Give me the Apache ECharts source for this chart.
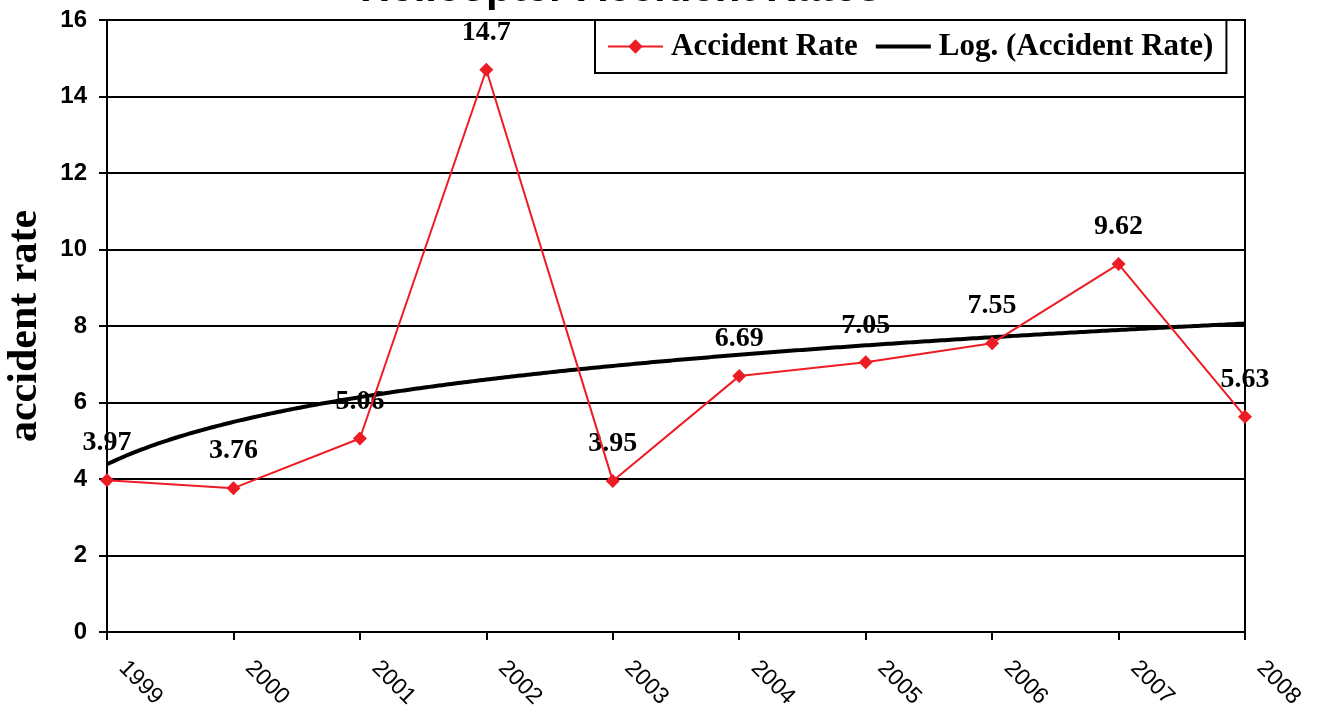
<!DOCTYPE html>
<html>
<head>
<meta charset="utf-8">
<title>Helicopter Accident Rates</title>
<script src="https://cdn.jsdelivr.net/npm/echarts@6/dist/echarts.min.js"></script>
<style>
  html, body { margin: 0; padding: 0; background: #fff; }
  #chart { width: 1320px; height: 713px; }
</style>
</head>
<body>
<div id="chart"></div>
<script>
// Yearly helicopter accident rates
const years = ['1999', '2000', '2001', '2002', '2003', '2004', '2005', '2006', '2007', '2008'];
const accidentRate = [3.97, 3.76, 5.06, 14.7, 3.95, 6.69, 7.05, 7.55, 9.62, 5.63];
const yTicks = [0, 2, 4, 6, 8, 10, 12, 14, 16];

// Logarithmic trendline y = a*ln(x) + b, least-squares fit with x = 1..n
function logFit(values) {
  const n = values.length;
  const lx = values.map((_, i) => Math.log(i + 1));
  const mx = lx.reduce((s, v) => s + v, 0) / n;
  const my = values.reduce((s, v) => s + v, 0) / n;
  let sxy = 0, sxx = 0;
  for (let i = 0; i < n; i++) {
    sxy += (lx[i] - mx) * (values[i] - my);
    sxx += (lx[i] - mx) * (lx[i] - mx);
  }
  const a = sxy / sxx;
  return { a: a, b: my - a * mx };
}
const fit = logFit(accidentRate);
const trend = [];
for (let k = 0; k <= (years.length - 1) * 40; k++) {
  const t = k / 40;
  trend.push([t, fit.a * Math.log(t + 1) + fit.b]);
}

const RED = '#ED1C24';
const serif = '"Liberation Serif", "Times New Roman", serif';
const sans = '"Liberation Sans", Arial, sans-serif';

const chart = echarts.init(document.getElementById('chart'), null, { renderer: 'canvas' });
chart.setOption({
  backgroundColor: '#fff',
  animation: false,
  title: {
    text: 'Helicopter Accident Rates',
    left: 355,
    top: -37,
    textStyle: { fontFamily: sans, fontWeight: 'bold', fontSize: 42, color: '#000' }
  },
  legend: {
    left: 595,
    top: 20,
    padding: [11, 13, 11, 12],
    itemGap: 18,
    itemWidth: 55,
    itemHeight: 18,
    borderColor: '#000',
    borderWidth: 2,
    backgroundColor: '#fff',
    data: [
      { name: 'Accident Rate' },
      { name: 'Log. (Accident Rate)', icon: 'path://M0,0 L55,0 L55,4 L0,4 Z' }
    ],
    textStyle: { fontFamily: serif, fontWeight: 'bold', fontSize: 31, color: '#000', padding: [0, 0, 0, 3] }
  },
  grid: {
    left: 107, right: 75, top: 20, bottom: 81,
    outerBoundsMode: 'none',
    containLabel: false,
    show: true, borderColor: '#000', borderWidth: 2
  },
  xAxis: [{
    type: 'category',
    data: years,
    boundaryGap: false,
    axisLine: { lineStyle: { color: '#000', width: 2 } },
    axisTick: { length: 8, lineStyle: { color: '#000', width: 2 } },
    axisLabel: {
      rotate: -45, margin: 17, padding: [0, 0, 0, 22], color: '#000',
      fontFamily: sans, fontSize: 23
    },
    splitLine: { show: false }
  }, {
    type: 'value',
    min: 0, max: years.length - 1,
    show: false
  }],
  yAxis: {
    type: 'value',
    min: yTicks[0], max: yTicks[yTicks.length - 1], interval: 2,
    name: 'accident rate',
    nameLocation: 'middle',
    nameGap: 61,
    nameTextStyle: { fontFamily: serif, fontWeight: 'bold', fontSize: 42, color: '#000' },
    axisLine: { show: true, lineStyle: { color: '#000', width: 2 } },
    axisTick: { show: true, length: 8, lineStyle: { color: '#000', width: 2 } },
    axisLabel: {
      margin: 20, color: '#000',
      fontFamily: sans, fontWeight: 'bold', fontSize: 24
    },
    splitLine: { lineStyle: { color: '#000', width: 2 } }
  },
  series: [{
    // value labels sit under the lines
    name: 'values',
    type: 'scatter',
    z: 1,
    xAxisIndex: 0,
    data: accidentRate,
    symbol: 'diamond',
    symbolSize: 14,
    itemStyle: { color: 'rgba(0,0,0,0)', opacity: 1 },
    label: {
      show: true, position: 'top', distance: 16,
      fontFamily: serif, fontWeight: 'bold', fontSize: 28, color: '#000'
    },
    silent: true
  }, {
    name: 'Log. (Accident Rate)',
    type: 'line',
    z: 3,
    xAxisIndex: 1,
    data: trend,
    showSymbol: false,
    symbol: 'none',
    lineStyle: { color: '#000', width: 4 },
    itemStyle: { color: '#000' }
  }, {
    name: 'Accident Rate',
    type: 'line',
    z: 4,
    xAxisIndex: 0,
    data: accidentRate,
    symbol: 'diamond',
    symbolSize: 14,
    lineStyle: { color: RED, width: 2 },
    itemStyle: { color: RED }
  }]
});
</script>
</body>
</html>
